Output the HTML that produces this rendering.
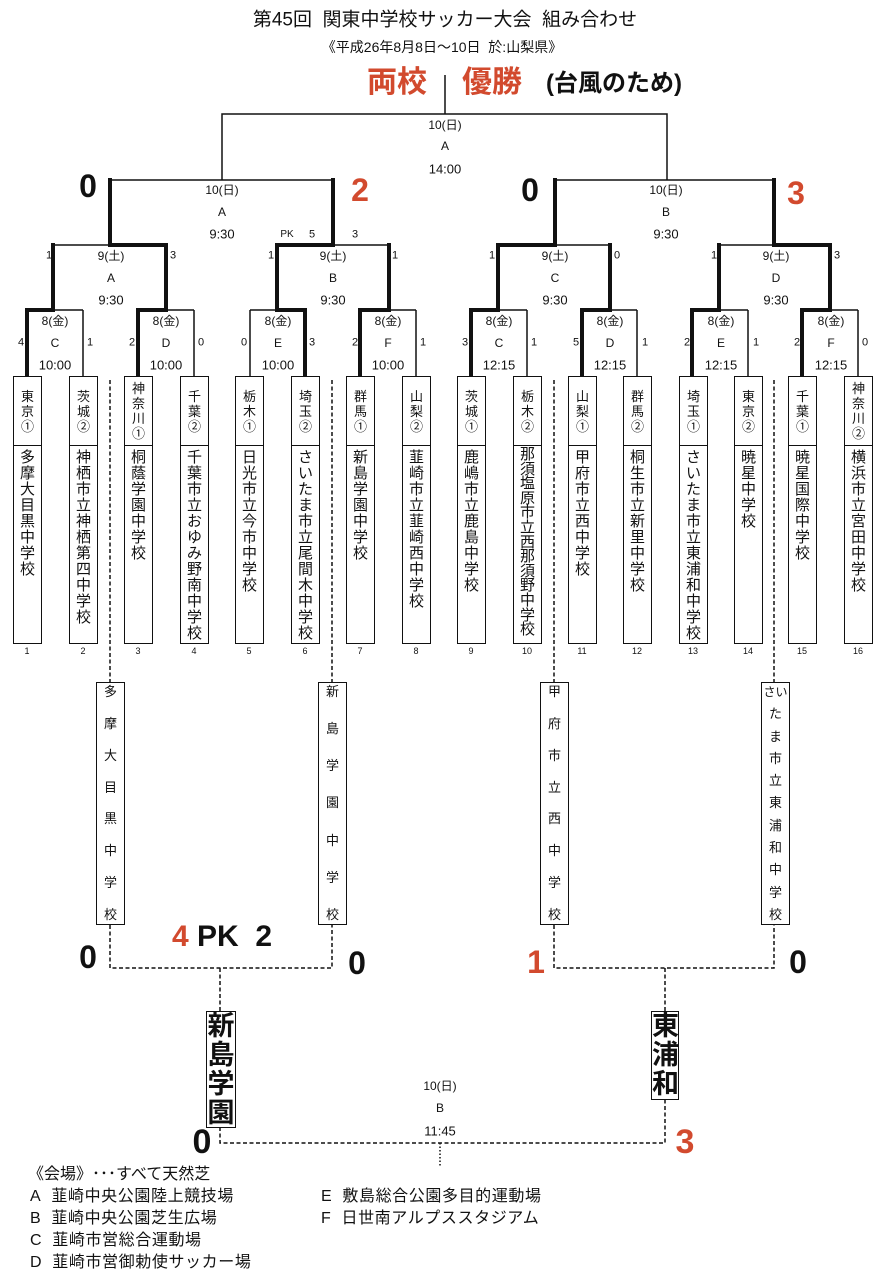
<!DOCTYPE html>
<html><head><meta charset="utf-8"><style>
*{margin:0;padding:0;box-sizing:border-box}
body{width:890px;height:1280px;background:#fff;position:relative;overflow:hidden;font-family:"Liberation Sans","Noto Sans CJK JP",sans-serif;color:#111}
.t{position:absolute;transform:translate(-50%,-50%);white-space:nowrap;line-height:1}
.sb{position:absolute;top:376px;width:29px;height:268px;border:1.5px solid #111;display:flex;flex-direction:column;overflow:hidden}
.pf{height:69px;flex-shrink:0;border-bottom:1.5px solid #111;font-size:13px;line-height:15px;text-align:center;display:flex;align-items:center;justify-content:center}
.nm{font-size:15px;line-height:16px;text-align:center;padding-top:4px}
.num{position:absolute;top:646px;font-size:9px;transform:translateX(-50%)}
.bb{position:absolute;top:682px;width:29px;height:243px;border:1.5px solid #111;display:flex;flex-direction:column;justify-content:space-between;align-items:center;font-size:13px;line-height:14px;padding:2px 0;background:#fff}
.red{color:#d24a2e}
.big{font-size:32px;font-weight:bold}
.fb{position:absolute;border:1.5px solid #111;font-size:27px;font-weight:bold;line-height:29px;text-align:center;background:#fff}
.lg{position:absolute;font-size:16px;white-space:nowrap;line-height:1;letter-spacing:0.6px}
</style></head><body>
<svg width="890" height="1280" style="position:absolute;left:0;top:0">
<g stroke="#111" fill="none" stroke-width="1.5">
<path d="M445 75V114M222 180V114H667V180"/>
<path d="M110 180H333M555 180H774"/>
<path d="M53 245H110M333 245H389M555 245H610M719 245H774"/>
<path d="M53 310H83M83 310V376M166 310H194M194 310V376M250 310H277M250 310V376M389 310H416M416 310V376"/>
<path d="M498 310H527M527 310V376M610 310H637M637 310V376M719 310H748M748 310V376M830 310H858M858 310V376"/>
</g>
<g stroke="#111" fill="none" stroke-width="4" stroke-linecap="square">
<path d="M110 180V245M333 180V245M555 180V245M774 180V245"/>
<path d="M110 245H166M277 245H333M498 245H555M774 245H830"/>
<path d="M53 245V310M166 245V310M277 245V310M389 245V310M498 245V310M610 245V310M719 245V310M830 245V310"/>
<path d="M27 310H53M27 310V374M138 310H166M138 310V374M277 310H305M305 310V374M360 310H389M360 310V374"/>
<path d="M471 310H498M471 310V374M582 310H610M582 310V374M692 310H719M692 310V374M802 310H830M802 310V374"/>
</g>
<g stroke="#111" fill="none" stroke-width="1.5" stroke-dasharray="4,2.5">
<path d="M110 380V682M110 925V968H332V925M332 380V682"/>
<path d="M554 380V682M554 925V968H774V925M774 380V682"/>
<path d="M220 968V1011M220 1127V1143H665V1099M665 968V1011"/>
</g>
<path d="M440 1143V1166" stroke="#111" stroke-width="1.5" stroke-dasharray="1.5,2"/>
</svg>

<div class="t" style="left:445px;top:20px;font-size:19px">第45回&nbsp;&nbsp;関東中学校サッカー大会&nbsp;&nbsp;組み合わせ</div>
<div class="t" style="left:442px;top:47px;font-size:14px">《平成26年8月8日～10日&nbsp;&nbsp;於:山梨県》</div>
<div class="t red" style="left:397px;top:83px;font-size:30px;font-weight:bold">両校</div>
<div class="t red" style="left:492px;top:83px;font-size:30px;font-weight:bold">優勝</div>
<div class="t" style="left:614px;top:84px;font-size:24px;font-weight:bold">(台風のため)</div>

<div class="t" style="left:445px;top:125px;font-size:12px">10(日)</div>
<div class="t" style="left:445px;top:146px;font-size:12px">A</div>
<div class="t" style="left:445px;top:169px;font-size:13px">14:00</div>

<div class="t big" style="left:88px;top:186px">0</div>
<div class="t big red" style="left:360px;top:190px">2</div>
<div class="t big" style="left:530px;top:190px">0</div>
<div class="t big red" style="left:796px;top:193px">3</div>

<div class="t" style="left:222px;top:190px;font-size:12px">10(日)</div>
<div class="t" style="left:222px;top:212px;font-size:12px">A</div>
<div class="t" style="left:222px;top:234px;font-size:13px">9:30</div>
<div class="t" style="left:666px;top:190px;font-size:12px">10(日)</div>
<div class="t" style="left:666px;top:212px;font-size:12px">B</div>
<div class="t" style="left:666px;top:234px;font-size:13px">9:30</div>
<div class="t" style="left:287px;top:235px;font-size:10px">PK</div>
<div class="t" style="left:312px;top:235px;font-size:11px">5</div>
<div class="t" style="left:355px;top:235px;font-size:11px">3</div>

<div class="t" style="left:111px;top:256px;font-size:12px">9(土)</div>
<div class="t" style="left:111px;top:278px;font-size:12px">A</div>
<div class="t" style="left:111px;top:300px;font-size:13px">9:30</div>
<div class="t" style="left:333px;top:256px;font-size:12px">9(土)</div>
<div class="t" style="left:333px;top:278px;font-size:12px">B</div>
<div class="t" style="left:333px;top:300px;font-size:13px">9:30</div>
<div class="t" style="left:555px;top:256px;font-size:12px">9(土)</div>
<div class="t" style="left:555px;top:278px;font-size:12px">C</div>
<div class="t" style="left:555px;top:300px;font-size:13px">9:30</div>
<div class="t" style="left:776px;top:256px;font-size:12px">9(土)</div>
<div class="t" style="left:776px;top:278px;font-size:12px">D</div>
<div class="t" style="left:776px;top:300px;font-size:13px">9:30</div>

<div class="t" style="left:49px;top:256px;font-size:11px">1</div>
<div class="t" style="left:173px;top:256px;font-size:11px">3</div>
<div class="t" style="left:271px;top:256px;font-size:11px">1</div>
<div class="t" style="left:395px;top:256px;font-size:11px">1</div>
<div class="t" style="left:492px;top:256px;font-size:11px">1</div>
<div class="t" style="left:617px;top:256px;font-size:11px">0</div>
<div class="t" style="left:714px;top:256px;font-size:11px">1</div>
<div class="t" style="left:837px;top:256px;font-size:11px">3</div>

<div class="t" style="left:55px;top:321px;font-size:12px">8(金)</div>
<div class="t" style="left:55px;top:343px;font-size:12px">C</div>
<div class="t" style="left:55px;top:365px;font-size:13px">10:00</div>
<div class="t" style="left:166px;top:321px;font-size:12px">8(金)</div>
<div class="t" style="left:166px;top:343px;font-size:12px">D</div>
<div class="t" style="left:166px;top:365px;font-size:13px">10:00</div>
<div class="t" style="left:278px;top:321px;font-size:12px">8(金)</div>
<div class="t" style="left:278px;top:343px;font-size:12px">E</div>
<div class="t" style="left:278px;top:365px;font-size:13px">10:00</div>
<div class="t" style="left:388px;top:321px;font-size:12px">8(金)</div>
<div class="t" style="left:388px;top:343px;font-size:12px">F</div>
<div class="t" style="left:388px;top:365px;font-size:13px">10:00</div>
<div class="t" style="left:499px;top:321px;font-size:12px">8(金)</div>
<div class="t" style="left:499px;top:343px;font-size:12px">C</div>
<div class="t" style="left:499px;top:365px;font-size:13px">12:15</div>
<div class="t" style="left:610px;top:321px;font-size:12px">8(金)</div>
<div class="t" style="left:610px;top:343px;font-size:12px">D</div>
<div class="t" style="left:610px;top:365px;font-size:13px">12:15</div>
<div class="t" style="left:721px;top:321px;font-size:12px">8(金)</div>
<div class="t" style="left:721px;top:343px;font-size:12px">E</div>
<div class="t" style="left:721px;top:365px;font-size:13px">12:15</div>
<div class="t" style="left:831px;top:321px;font-size:12px">8(金)</div>
<div class="t" style="left:831px;top:343px;font-size:12px">F</div>
<div class="t" style="left:831px;top:365px;font-size:13px">12:15</div>

<div class="t" style="left:21px;top:343px;font-size:11px">4</div>
<div class="t" style="left:90px;top:343px;font-size:11px">1</div>
<div class="t" style="left:132px;top:343px;font-size:11px">2</div>
<div class="t" style="left:201px;top:343px;font-size:11px">0</div>
<div class="t" style="left:244px;top:343px;font-size:11px">0</div>
<div class="t" style="left:312px;top:343px;font-size:11px">3</div>
<div class="t" style="left:355px;top:343px;font-size:11px">2</div>
<div class="t" style="left:423px;top:343px;font-size:11px">1</div>
<div class="t" style="left:465px;top:343px;font-size:11px">3</div>
<div class="t" style="left:534px;top:343px;font-size:11px">1</div>
<div class="t" style="left:576px;top:343px;font-size:11px">5</div>
<div class="t" style="left:645px;top:343px;font-size:11px">1</div>
<div class="t" style="left:687px;top:343px;font-size:11px">2</div>
<div class="t" style="left:756px;top:343px;font-size:11px">1</div>
<div class="t" style="left:797px;top:343px;font-size:11px">2</div>
<div class="t" style="left:865px;top:343px;font-size:11px">0</div>

<div class="sb" style="left:13px"><div class="pf">東<br>京<br>①</div><div class="nm">多<br>摩<br>大<br>目<br>黒<br>中<br>学<br>校</div></div>
<div class="sb" style="left:69px"><div class="pf">茨<br>城<br>②</div><div class="nm">神<br>栖<br>市<br>立<br>神<br>栖<br>第<br>四<br>中<br>学<br>校</div></div>
<div class="sb" style="left:124px"><div class="pf">神<br>奈<br>川<br>①</div><div class="nm">桐<br>蔭<br>学<br>園<br>中<br>学<br>校</div></div>
<div class="sb" style="left:180px"><div class="pf">千<br>葉<br>②</div><div class="nm">千<br>葉<br>市<br>立<br>お<br>ゆ<br>み<br>野<br>南<br>中<br>学<br>校</div></div>
<div class="sb" style="left:235px"><div class="pf">栃<br>木<br>①</div><div class="nm">日<br>光<br>市<br>立<br>今<br>市<br>中<br>学<br>校</div></div>
<div class="sb" style="left:291px"><div class="pf">埼<br>玉<br>②</div><div class="nm">さ<br>い<br>た<br>ま<br>市<br>立<br>尾<br>間<br>木<br>中<br>学<br>校</div></div>
<div class="sb" style="left:346px"><div class="pf">群<br>馬<br>①</div><div class="nm">新<br>島<br>学<br>園<br>中<br>学<br>校</div></div>
<div class="sb" style="left:402px"><div class="pf">山<br>梨<br>②</div><div class="nm">韮<br>崎<br>市<br>立<br>韮<br>崎<br>西<br>中<br>学<br>校</div></div>
<div class="sb" style="left:457px"><div class="pf">茨<br>城<br>①</div><div class="nm">鹿<br>嶋<br>市<br>立<br>鹿<br>島<br>中<br>学<br>校</div></div>
<div class="sb" style="left:513px"><div class="pf">栃<br>木<br>②</div><div class="nm" style="line-height:14.6px;padding-top:2px">那<br>須<br>塩<br>原<br>市<br>立<br>西<br>那<br>須<br>野<br>中<br>学<br>校</div></div>
<div class="sb" style="left:568px"><div class="pf">山<br>梨<br>①</div><div class="nm">甲<br>府<br>市<br>立<br>西<br>中<br>学<br>校</div></div>
<div class="sb" style="left:623px"><div class="pf">群<br>馬<br>②</div><div class="nm">桐<br>生<br>市<br>立<br>新<br>里<br>中<br>学<br>校</div></div>
<div class="sb" style="left:679px"><div class="pf">埼<br>玉<br>①</div><div class="nm">さ<br>い<br>た<br>ま<br>市<br>立<br>東<br>浦<br>和<br>中<br>学<br>校</div></div>
<div class="sb" style="left:734px"><div class="pf">東<br>京<br>②</div><div class="nm">暁<br>星<br>中<br>学<br>校</div></div>
<div class="sb" style="left:788px"><div class="pf">千<br>葉<br>①</div><div class="nm">暁<br>星<br>国<br>際<br>中<br>学<br>校</div></div>
<div class="sb" style="left:844px"><div class="pf">神<br>奈<br>川<br>②</div><div class="nm">横<br>浜<br>市<br>立<br>宮<br>田<br>中<br>学<br>校</div></div>

<div class="num" style="left:27px">1</div><div class="num" style="left:83px">2</div>
<div class="num" style="left:138px">3</div><div class="num" style="left:194px">4</div>
<div class="num" style="left:249px">5</div><div class="num" style="left:305px">6</div>
<div class="num" style="left:360px">7</div><div class="num" style="left:416px">8</div>
<div class="num" style="left:471px">9</div><div class="num" style="left:527px">10</div>
<div class="num" style="left:582px">11</div><div class="num" style="left:637px">12</div>
<div class="num" style="left:693px">13</div><div class="num" style="left:748px">14</div>
<div class="num" style="left:802px">15</div><div class="num" style="left:858px">16</div>

<div class="bb" style="left:96px"><span>多</span><span>摩</span><span>大</span><span>目</span><span>黒</span><span>中</span><span>学</span><span>校</span></div>
<div class="bb" style="left:318px"><span>新</span><span>島</span><span>学</span><span>園</span><span>中</span><span>学</span><span>校</span></div>
<div class="bb" style="left:540px"><span>甲</span><span>府</span><span>市</span><span>立</span><span>西</span><span>中</span><span>学</span><span>校</span></div>
<div class="bb" style="left:761px"><span style="font-size:12px">さい</span><span>た</span><span>ま</span><span>市</span><span>立</span><span>東</span><span>浦</span><span>和</span><span>中</span><span>学</span><span>校</span></div>

<div class="t big" style="left:88px;top:957px">0</div>
<div class="t" style="left:222px;top:937px;font-size:30px;font-weight:bold"><span class="red">4</span> PK&nbsp; 2</div>
<div class="t big" style="left:357px;top:963px">0</div>
<div class="t big red" style="left:536px;top:962px">1</div>
<div class="t big" style="left:798px;top:962px">0</div>

<div class="fb" style="left:206px;top:1011px;width:30px;height:117px">新<br>島<br>学<br>園</div>
<div class="fb" style="left:651px;top:1011px;width:28px;height:89px">東<br>浦<br>和</div>
<div class="t" style="left:440px;top:1086px;font-size:12px">10(日)</div>
<div class="t" style="left:440px;top:1108px;font-size:12px">B</div>
<div class="t" style="left:440px;top:1131px;font-size:13px">11:45</div>
<div class="t big" style="left:202px;top:1142px;font-size:34px">0</div>
<div class="t big red" style="left:685px;top:1142px;font-size:34px">3</div>

<div class="lg" style="left:28px;top:1167px;letter-spacing:0">《会場》･･･すべて天然芝</div>
<div class="lg" style="left:30px;top:1189px">A&nbsp;&nbsp;韮崎中央公園陸上競技場</div>
<div class="lg" style="left:30px;top:1211px">B&nbsp;&nbsp;韮崎中央公園芝生広場</div>
<div class="lg" style="left:30px;top:1233px">C&nbsp;&nbsp;韮崎市営総合運動場</div>
<div class="lg" style="left:30px;top:1255px">D&nbsp;&nbsp;韮崎市営御勅使サッカー場</div>
<div class="lg" style="left:321px;top:1189px">E&nbsp;&nbsp;敷島総合公園多目的運動場</div>
<div class="lg" style="left:321px;top:1211px">F&nbsp;&nbsp;日世南アルプススタジアム</div>
</body></html>
